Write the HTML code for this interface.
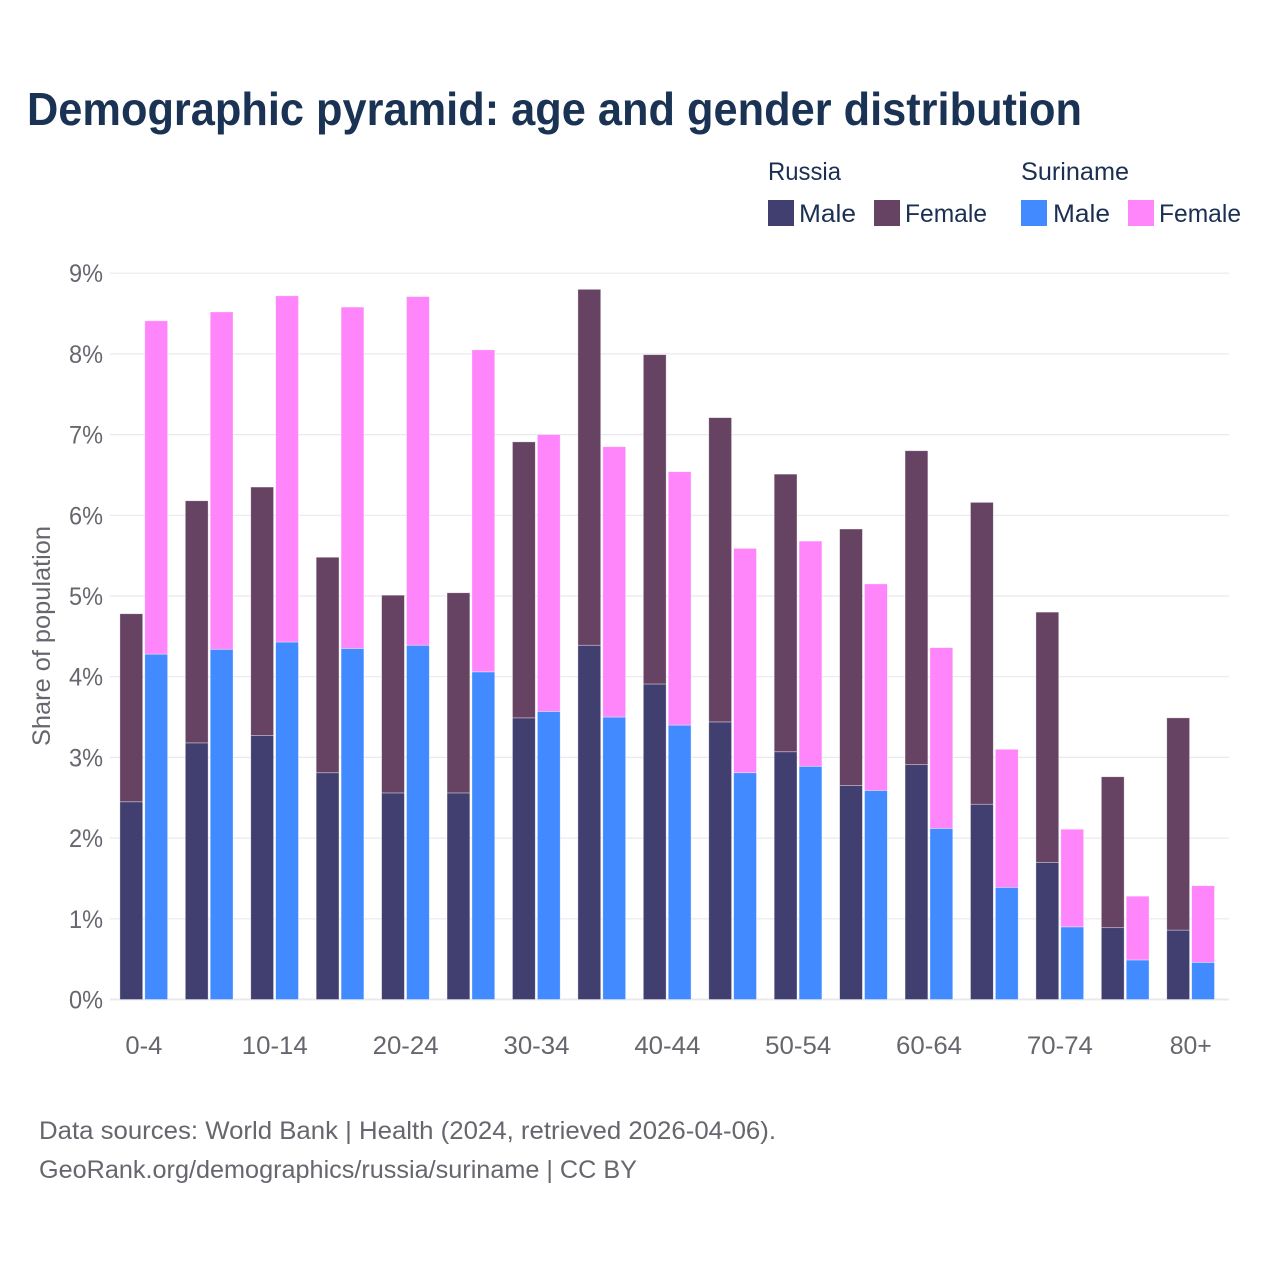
<!DOCTYPE html>
<html lang="en">
<head>
<meta charset="utf-8">
<title>Demographic pyramid: age and gender distribution</title>
<style>
html,body{margin:0;padding:0;background:#fff;width:1280px;height:1280px;overflow:hidden}
svg{display:block}
text{font-family:"Liberation Sans",sans-serif}
</style>
</head>
<body>
<svg id="chart" xmlns="http://www.w3.org/2000/svg" width="1280" height="1280" viewBox="0 0 1280 1280">
  <rect x="0" y="0" width="1280" height="1280" fill="#fff"/>
  <text x="27" y="125" font-size="46" font-weight="700" fill="#1a3354" textLength="1055" lengthAdjust="spacingAndGlyphs">Demographic pyramid: age and gender distribution</text>

  <g font-size="25" fill="#1a2f52">
    <text x="768" y="180" textLength="73" lengthAdjust="spacingAndGlyphs">Russia</text>
    <text x="1021" y="180" textLength="108" lengthAdjust="spacingAndGlyphs">Suriname</text>
    <rect x="768" y="200" width="26" height="26" fill="#413f70"/>
    <text x="799" y="222" textLength="57" lengthAdjust="spacingAndGlyphs">Male</text>
    <rect x="874" y="200" width="26" height="26" fill="#664263"/>
    <text x="905" y="222" textLength="82" lengthAdjust="spacingAndGlyphs">Female</text>
    <rect x="1021" y="200" width="26" height="26" fill="#418aff"/>
    <text x="1053" y="222" textLength="57" lengthAdjust="spacingAndGlyphs">Male</text>
    <rect x="1128" y="200" width="26" height="26" fill="#ff85fa"/>
    <text x="1159" y="222" textLength="82" lengthAdjust="spacingAndGlyphs">Female</text>
  </g>

  <g id="grid"></g>
  <g id="yticks"></g>
  <g id="bars"></g>
  <g id="xticks"></g>

  <text transform="translate(50,636) rotate(-90)" text-anchor="middle" font-size="25" fill="#66666e" textLength="220" lengthAdjust="spacingAndGlyphs">Share of population</text>

  <text x="39" y="1139" font-size="25" fill="#66666e" textLength="737" lengthAdjust="spacingAndGlyphs">Data sources: World Bank | Health (2024, retrieved 2026-04-06).</text>
  <text x="39" y="1178" font-size="25" fill="#66666e" textLength="598" lengthAdjust="spacingAndGlyphs">GeoRank.org/demographics/russia/suriname | CC BY</text>
</svg>
<script>
const ageGroups = ["0-4","5-9","10-14","15-19","20-24","25-29","30-34","35-39","40-44","45-49","50-54","55-59","60-64","65-69","70-74","75-79","80+"];
const russiaMale = [2.45,3.18,3.27,2.81,2.56,2.56,3.49,4.39,3.91,3.44,3.07,2.65,2.91,2.42,1.70,0.89,0.86];
const russiaFemale = [2.33,3.00,3.08,2.67,2.45,2.48,3.42,4.41,4.08,3.77,3.44,3.18,3.89,3.74,3.10,1.87,2.63];
const surinameMale = [4.28,4.34,4.43,4.35,4.39,4.06,3.57,3.50,3.40,2.81,2.89,2.59,2.12,1.39,0.90,0.49,0.46];
const surinameFemale = [4.13,4.18,4.29,4.23,4.32,3.99,3.43,3.35,3.14,2.78,2.79,2.56,2.24,1.71,1.21,0.79,0.95];
const yTicks = [0,1,2,3,4,5,6,7,8,9];
const xTickLabels = ["0-4","10-14","20-24","30-34","40-44","50-54","60-64","70-74","80+"];

const NS = 'http://www.w3.org/2000/svg';
const yScale = v => 999.5 - v * 80.7;
const groupX = i => 119.9 + i * 65.43;
const BAR_W = 22.8;
const OFFSET = 24.9;

function make(tag, attrs, parent) {
  const el = document.createElementNS(NS, tag);
  for (const k in attrs) el.setAttribute(k, attrs[k]);
  parent.appendChild(el);
  return el;
}

const grid = document.getElementById('grid');
const yG = document.getElementById('yticks');
yTicks.forEach(t => {
  const line = make('line', {x1:110, x2:1229, y1:yScale(t), y2:yScale(t), stroke:'#e9e8ef', 'stroke-width': t === 0 ? 2 : 1.2}, grid);
  
  
  const lab = make('text', {x:103, y:yScale(t) + 9, 'text-anchor':'end', 'font-size':25, fill:'#66666e', textLength:34, lengthAdjust:'spacingAndGlyphs'}, yG);
  
  
  lab.textContent = t + '%';
});

const barsG = document.getElementById('bars');
function stackedBar(i, offset, male, female, maleColor, femaleColor, country) {
  const x = groupX(i) + offset;
  const m = make('rect', {x:x, y:yScale(male), width:BAR_W, height:yScale(0) - yScale(male), fill:maleColor, stroke:'#fff', 'stroke-opacity':0.5, 'stroke-width':0.7}, barsG);
  
  
  const f = make('rect', {x:x, y:yScale(male + female), width:BAR_W, height:yScale(male) - yScale(male + female), fill:femaleColor, stroke:'#fff', 'stroke-opacity':0.5, 'stroke-width':0.7}, barsG);
  
  
}
ageGroups.forEach((g, i) => {
  stackedBar(i, 0, russiaMale[i], russiaFemale[i], '#413f70', '#664263', 'russia');
  stackedBar(i, OFFSET, surinameMale[i], surinameFemale[i], '#418aff', '#ff85fa', 'suriname');
});

const xG = document.getElementById('xticks');
xTickLabels.forEach(label => {
  const i = ageGroups.indexOf(label);
  const t = make('text', {x:groupX(i) + 24, y:1054, 'text-anchor':'middle', 'font-size':25, fill:'#66666e'}, xG);
  
  
  t.setAttribute('textLength', label.length === 3 ? (label === '80+' ? 42 : 37) : 66);
  t.setAttribute('lengthAdjust', 'spacingAndGlyphs');
  t.textContent = label;
});
</script>
</body>
</html>
